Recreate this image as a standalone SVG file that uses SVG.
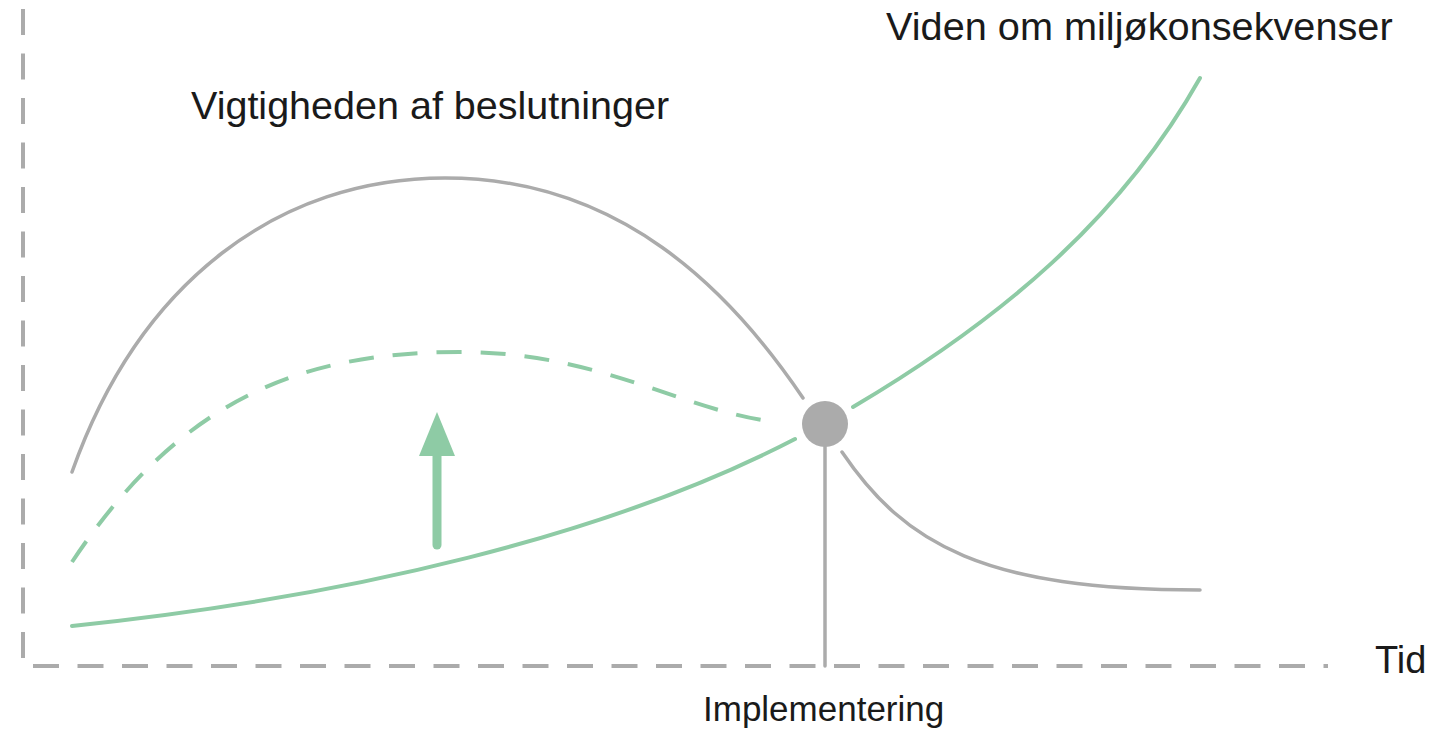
<svg xmlns="http://www.w3.org/2000/svg" width="1431" height="731" viewBox="0 0 1431 731">
<style>
.axis{fill:none;stroke:#ababab;stroke-width:4;stroke-dasharray:26 18.5}
.gray{fill:none;stroke:#ababab;stroke-width:3.5;stroke-linecap:round}
.green{fill:none;stroke:#8ecba5;stroke-width:4;stroke-linecap:round}
.dash{stroke-dasharray:25 19;stroke-linecap:butt}
.lbl{font-family:"Liberation Sans",Arial,sans-serif;fill:#1a1a1a}
</style>
<rect width="1431" height="731" fill="#ffffff"/>
<g id="axes">
<line class="axis" x1="23" y1="9" x2="23" y2="658"/>
<line class="axis" x1="33" y1="666" x2="1328" y2="666"/>
</g>
<g id="connectors">
<path id="importance-1" class="gray" d="M72,472 C140,280 280,178 445,178 C620,178 730,290 803,398"/>
<path id="importance-2" class="gray" d="M842,452 C905,545 985,590 1200,590"/>
<path id="knowledge-1" class="green" d="M72,626 C350,597 610,535 795,439"/>
<path id="knowledge-2" class="green" d="M853,407 C1000,320 1120,220 1200,78"/>
<path id="improved" class="green dash" d="M72,562 C180,400 300,352 460,352 C600,352 680,410 775,422"/>
<line id="impl-line" class="gray" x1="825" y1="447" x2="825" y2="666" stroke-linecap="butt"/>
<g id="arrow">
<line x1="437" y1="545" x2="437" y2="450" stroke="#8ecba5" stroke-width="9" stroke-linecap="round"/>
<polygon points="437,412 455,456 419,456" fill="#8ecba5"/>
</g>
</g>
<g id="node-implementation">
<circle cx="825" cy="424" r="23" fill="#ababab"/>
</g>
<g id="labels">
<text class="lbl" x="886" y="40" font-size="39.7">Viden om miljøkonsekvenser</text>
<text class="lbl" x="191" y="119" font-size="39.5">Vigtigheden af beslutninger</text>
<text class="lbl" x="1375" y="673" font-size="38">Tid</text>
<text class="lbl" x="703" y="721" font-size="35">Implementering</text>
</g>
</svg>
